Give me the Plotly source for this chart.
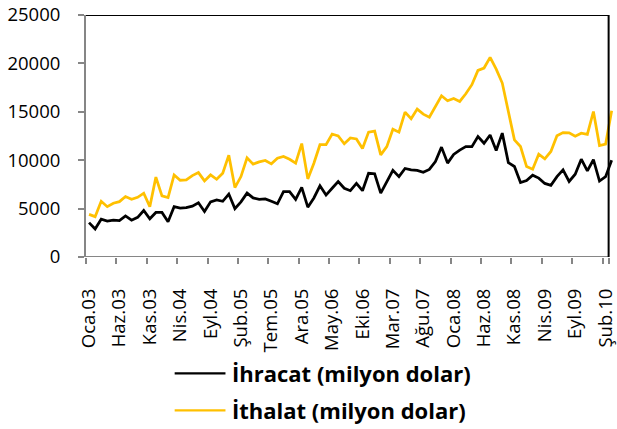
import plotly.graph_objects as go

# Monthly foreign trade of Turkey, Jan 2003 - Mar 2010 (million USD)
aylar = ["Oca", "Şub", "Mar", "Nis", "May", "Haz", "Tem", "Ağu", "Eyl", "Eki", "Kas", "Ara"]
yillar = ["03", "04", "05", "06", "07", "08", "09", "10"]
donemler = [f"{a}.{y}" for y in yillar for a in aylar][:87]

ihracat = [
    3550, 2900, 3900, 3700, 3800, 3750, 4250, 3800, 4100, 4800, 3950, 4600,
    4600, 3650, 5200, 5050, 5100, 5250, 5600, 4700, 5700, 5900, 5750, 6500,
    5000, 5700, 6600, 6100, 5950, 6000, 5750, 5500, 6750, 6750, 5950, 7200,
    5150, 6100, 7350, 6400, 7100, 7800, 7100, 6850, 7600, 6850, 8650, 8600,
    6600, 7700, 8950, 8300, 9150, 9000, 8950, 8750, 9050, 9850, 11350, 9700,
    10600, 11050, 11400, 11400, 12450, 11750, 12600, 11000, 12800, 9750, 9350, 7700,
    7900, 8450, 8150, 7600, 7400, 8300, 9000, 7800, 8550, 10100, 8900, 10050,
    7850, 8300, 10000,
]
ithalat = [
    4400, 4170, 5760, 5200, 5550, 5720, 6250, 5970, 6170, 6590, 5200, 8250,
    6310, 6140, 8480, 7930, 7970, 8410, 8720, 7860, 8480, 8030, 8660, 10520,
    7170, 8310, 10240, 9590, 9830, 9970, 9620, 10200, 10380, 10100, 9690, 11720,
    8070, 9690, 11600, 11600, 12700, 12500, 11700, 12300, 12200, 11200, 12900, 13000,
    10550, 11400, 13200, 12900, 14970, 14280, 15280, 14760, 14450, 15550, 16660, 16140,
    16380, 16070, 16860, 17800, 19280, 19520, 20620, 19410, 17970, 15030, 12100, 11410,
    9340, 9070, 10620, 10140, 10900, 12520, 12860, 12830, 12480, 12790, 12660, 15030,
    11520, 11660, 15100,
]

seriler = [
    ("İhracat (milyon dolar)", ihracat, "#000000"),
    ("İthalat (milyon dolar)", ithalat, "#FFC000"),
]

AXIS_GRAY = "#868686"
FONT = "Open Sans"

fig = go.Figure()
for ad, degerler, renk in seriler:
    fig.add_trace(go.Scatter(
        x=donemler, y=degerler, name=ad, mode="lines",
        line=dict(color=renk, width=2.75), showlegend=False,
    ))

# plot-area edges: grey axis lines at left/bottom, black frame at top/right
x_sol, x_sag = -0.5, 85.5
frame = [
    (x_sol, 0, x_sag, 0, AXIS_GRAY),
    (x_sol, 25000, x_sag, 25000, "#000000"),
    (x_sag, 0, x_sag, 25000, "#000000"),
]
for x0, y0, x1, y1, c in frame:
    fig.add_shape(type="line", xref="x", yref="y", x0=x0, y0=y0, x1=x1, y1=y1,
                  line=dict(color=c, width=2), layer="above")

# legend drawn below the axis labels
W, H = 617, 429
ML, MR, MT, MB = 86, 0, 15, 172
pw, ph = W - ML - MR, H - MT - MB
for k, (ad, _, renk) in enumerate(seriler):
    py = 373.3 + k * 37
    yp = (H - MB - py) / ph
    fig.add_shape(type="line", xref="paper", yref="paper",
                  x0=(175 - ML) / pw, x1=(226 - ML) / pw, y0=yp, y1=yp,
                  line=dict(color=renk, width=2.25))
    fig.add_annotation(xref="paper", yref="paper", x=(231 - ML) / pw, y=yp,
                       xanchor="left", yanchor="middle", showarrow=False,
                       text=ad, font=dict(family=FONT, size=22, color="#000000", weight="bold"))

fig.update_layout(
    width=W, height=H,
    margin=dict(l=ML, r=MR, t=MT, b=MB, pad=0),
    paper_bgcolor="white", plot_bgcolor="white",
    showlegend=False,
    font=dict(family=FONT, size=18.5, color="#000000"),
)
fig.update_xaxes(
    type="category", range=[-0.5, 86.55],
    tickmode="array", tickvals=donemler[::5], ticktext=donemler[::5],
    tickson="boundaries", ticks="outside", ticklen=6, tickwidth=2, tickcolor=AXIS_GRAY,
    tickangle=-90, ticklabelstandoff=27,
    showline=False, showgrid=False, zeroline=False,
)
fig.update_yaxes(
    range=[0, 25000], tickmode="linear", tick0=0, dtick=5000, tickformat="d",
    ticks="outside", ticklen=6, tickwidth=2, tickcolor=AXIS_GRAY,
    showline=True, linecolor=AXIS_GRAY, linewidth=2,
    showgrid=False, zeroline=False, ticklabelstandoff=14,
)

fig.write_html("out.html")
